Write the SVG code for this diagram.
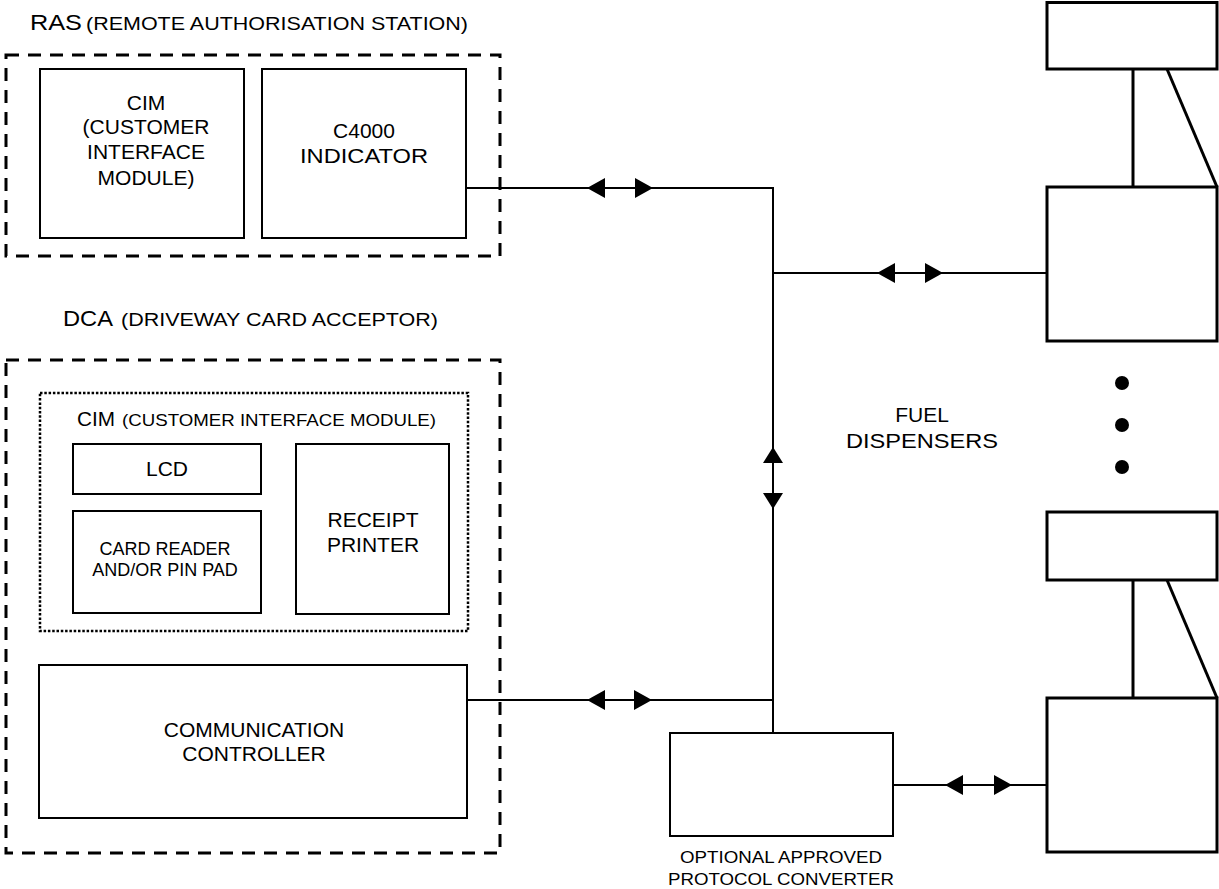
<svg xmlns="http://www.w3.org/2000/svg" xmlns:xlink="http://www.w3.org/1999/xlink" width="1219" height="889" viewBox="0 0 1219 889">
<style>
text{font-family:"Liberation Sans",Arial,sans-serif;fill:#000}
.lbl{font-size:21px;text-anchor:middle}
.sm{font-size:18px;text-anchor:middle}
.box{fill:#fff;stroke:#000;stroke-width:2}
.disp{fill:#fff;stroke:#000;stroke-width:3}
.dash{fill:none;stroke:#000;stroke-width:3;stroke-dasharray:13 9}
.dot{fill:none;stroke:#000;stroke-width:2.5;stroke-dasharray:2.5 1.8}
.wire{fill:none;stroke:#000;stroke-width:2}
.thick{fill:none;stroke:#000;stroke-width:3}
</style>
<defs>
<path id="aL" d="M0,0 L18,-10 L18,10 Z" fill="#000"/>
<path id="aR" d="M0,0 L-18,-10 L-18,10 Z" fill="#000"/>
<path id="aU" d="M0,0 L-10,16 L10,16 Z" fill="#000"/>
<path id="aD" d="M0,0 L-10,-16 L10,-16 Z" fill="#000"/>
</defs>
<rect width="1219" height="889" fill="#fff"/>

<g id="connectors">
<polyline class="wire" points="466,188 773,188 773,733"/>
<line class="wire" x1="773" y1="273" x2="1047" y2="273"/>
<line class="wire" x1="467" y1="700" x2="773" y2="700"/>
<line class="wire" x1="893" y1="785" x2="1047" y2="785"/>
<use xlink:href="#aL" x="587" y="188"/>
<use xlink:href="#aR" x="653" y="188"/>
<use xlink:href="#aL" x="877" y="273"/>
<use xlink:href="#aR" x="943" y="273"/>
<use xlink:href="#aU" x="773" y="447"/>
<use xlink:href="#aD" x="773" y="509"/>
<use xlink:href="#aL" x="587" y="700"/>
<use xlink:href="#aR" x="652" y="700"/>
<use xlink:href="#aL" x="945" y="785"/>
<use xlink:href="#aR" x="1012" y="785"/>
</g>

<g id="ras">
<rect class="dash" x="6" y="55" width="494" height="201"/>
<text x="30" y="30" font-size="22" textLength="52" lengthAdjust="spacingAndGlyphs">RAS</text>
<text x="86" y="30" font-size="18" textLength="382" lengthAdjust="spacingAndGlyphs">(REMOTE AUTHORISATION STATION)</text>
</g>
<g id="ras-cim">
<rect class="box" x="40" y="69" width="204" height="169"/>
<text class="lbl" x="146" y="110">CIM</text>
<text class="lbl" x="146" y="134">(CUSTOMER</text>
<text class="lbl" x="146" y="159">INTERFACE</text>
<text class="lbl" x="146" y="185">MODULE)</text>
</g>
<g id="c4000">
<rect class="box" x="262" y="69" width="204" height="169"/>
<text class="lbl" x="364" y="138" font-size="23">C4000</text>
<text class="lbl" x="364" y="163" font-size="23" textLength="128" lengthAdjust="spacingAndGlyphs">INDICATOR</text>
</g>

<g id="dca">
<rect class="dash" x="6" y="360" width="494" height="493"/>
<text x="63" y="326" font-size="22" textLength="50" lengthAdjust="spacingAndGlyphs">DCA</text>
<text x="121" y="326" font-size="18" textLength="317" lengthAdjust="spacingAndGlyphs">(DRIVEWAY CARD ACCEPTOR)</text>
</g>
<g id="dca-cim">
<rect class="dot" x="40" y="393" width="428" height="238"/>
<text x="77" y="426" font-size="20" textLength="38" lengthAdjust="spacingAndGlyphs">CIM</text>
<text x="122" y="426" font-size="17" textLength="314" lengthAdjust="spacingAndGlyphs">(CUSTOMER INTERFACE MODULE)</text>
</g>
<g id="lcd">
<rect class="box" x="73" y="444" width="188" height="50"/>
<text class="lbl" x="167" y="476">LCD</text>
</g>
<g id="card-reader">
<rect class="box" x="73" y="511" width="188" height="102"/>
<text class="sm" x="165" y="555">CARD READER</text>
<text class="sm" x="165" y="576">AND/OR PIN PAD</text>
</g>
<g id="receipt-printer">
<rect class="box" x="296" y="444" width="153" height="170"/>
<text class="lbl" x="373" y="527">RECEIPT</text>
<text class="lbl" x="373" y="552">PRINTER</text>
</g>
<g id="comm-controller">
<rect class="box" x="39" y="665" width="428" height="153"/>
<text class="lbl" x="254" y="737">COMMUNICATION</text>
<text class="lbl" x="254" y="761">CONTROLLER</text>
</g>

<g id="converter">
<rect class="box" x="670" y="733" width="223" height="103"/>
<text x="781" y="863" font-size="17" text-anchor="middle" textLength="202" lengthAdjust="spacingAndGlyphs">OPTIONAL APPROVED</text>
<text x="781" y="885" font-size="17" text-anchor="middle" textLength="226" lengthAdjust="spacingAndGlyphs">PROTOCOL CONVERTER</text>
</g>

<g id="dispenser-1">
<rect class="disp" x="1047" y="2.5" width="170" height="66.5"/>
<line class="thick" x1="1133" y1="69" x2="1133" y2="187"/>
<line class="thick" x1="1167" y1="69" x2="1217" y2="187"/>
<rect class="disp" x="1047" y="187" width="170" height="154"/>
</g>
<g id="dispenser-2">
<rect class="disp" x="1047" y="512" width="170" height="68"/>
<line class="thick" x1="1133" y1="580" x2="1133" y2="698"/>
<line class="thick" x1="1167" y1="580" x2="1217" y2="698"/>
<rect class="disp" x="1047" y="698" width="170" height="154"/>
</g>
<g id="ellipsis">
<circle cx="1122" cy="383" r="7"/>
<circle cx="1122" cy="425" r="7"/>
<circle cx="1122" cy="467" r="7"/>
</g>
<g id="fuel-label">
<text class="lbl" x="922" y="422" font-size="22">FUEL</text>
<text class="lbl" x="922" y="448" font-size="22" textLength="152" lengthAdjust="spacingAndGlyphs">DISPENSERS</text>
</g>
</svg>
